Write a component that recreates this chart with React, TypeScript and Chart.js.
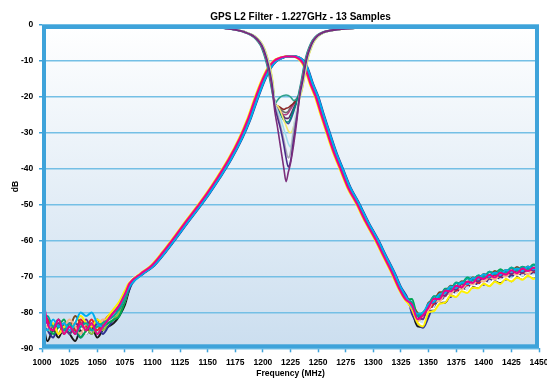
import React, { useEffect, useRef } from 'react';
import { Chart, registerables } from 'chart.js';

Chart.register(...registerables);

const TITLE = 'GPS L2 Filter - 1.227GHz - 13 Samples';
const X_LABEL = 'Frequency (MHz)';
const Y_LABEL = 'dB';
const X_MIN = 1000;
const X_MAX = 1450;
const X_STEP = 25;
const Y_MIN = -90;
const Y_MAX = 0;
const Y_STEP = 10;
const FONT = '"Liberation Sans", Arial, Helvetica, sans-serif';

// ---- Transmission (S21) traces, 13 samples, listed bottom-to-top ----
const S21_COLORS = ['#1a1a1a', '#2e3192', '#ffffff', '#8dc63f', '#00a651', '#7a4a1e', '#ed1c24', '#f6b48a', '#662d91', '#fff200', '#00a99d', '#00aeef', '#ec008c'];
// frequency offset (MHz) of each sample's passband skirt
const S21_SHIFT = [0.8, 1.5, -1.2, -0.2, 0, 0.2, -0.6, -0.4, 0.4, -1.6, 0.6, 1.1, -0.9];

// lower stop band (noise floor)
const LOW_F = [1000, 1005, 1010, 1015, 1020, 1025, 1030, 1035, 1040, 1045, 1050, 1055, 1060, 1065, 1070, 1075];
const LOW_DB = [
  [-81, -88, -85, -87, -84, -86, -88, -85, -86, -84, -87, -85, -84, -83, -81, -78],
  [-83, -85, -87, -84, -86, -83, -85, -87, -85, -86, -83, -86, -84, -82, -80, -77],
  [-82, -84, -82, -85, -83, -85, -82, -84, -86, -83, -85, -83, -82, -81, -79, -76],
  [-84, -82, -85, -83, -86, -84, -86, -83, -84, -86, -84, -85, -83, -82, -80, -77],
  [-80, -83, -86, -84, -82, -86, -84, -87, -85, -83, -86, -84, -83, -82, -81, -77],
  [-80, -82, -84, -86, -83, -84, -81, -83, -85, -84, -82, -84, -81, -80, -79, -76],
  [-79, -82, -84, -82, -85, -83, -85, -82, -84, -82, -85, -83, -81, -80, -78, -75],
  [-82, -84, -83, -86, -84, -82, -84, -86, -83, -85, -84, -82, -82, -81, -79, -76],
  [-81, -83, -85, -83, -84, -86, -83, -84, -82, -85, -83, -84, -82, -80, -79, -76],
  [-84, -85, -83, -86, -84, -85, -83, -81, -83, -84, -82, -83, -81, -79, -77, -74],
  [-83, -81, -84, -82, -85, -83, -86, -84, -83, -85, -84, -83, -82, -81, -79, -76],
  [-83, -85, -82, -84, -83, -85, -83, -80, -81, -80, -83, -84, -82, -80, -78, -75],
  [-74, -83, -85, -82, -86, -84, -86, -83, -85, -83, -86, -84, -82, -80, -78, -75],
];

// passband skirts (common shape)
const S21_F = [1080, 1090, 1100, 1110, 1120, 1130, 1140, 1150, 1160, 1170, 1180, 1187, 1194, 1200, 1206, 1211, 1216, 1222, 1228, 1233, 1237, 1240, 1244, 1249, 1254, 1259, 1265, 1271, 1278, 1286, 1294, 1303, 1310, 1318, 1324, 1330];
const S21_DB = [-72.0, -69.3, -67.0, -63.4, -59.4, -55.2, -51.2, -47.0, -42.4, -37.4, -31.5, -26.5, -20.4, -15.6, -11.9, -10.0, -9.2, -8.8, -8.8, -9.3, -10.6, -12.7, -16.4, -20.2, -25.2, -29.9, -35.4, -40.0, -45.3, -49.8, -54.8, -59.8, -64.2, -69.1, -73.2, -76.4];

// upper stop band
const HIGH_F = [1335, 1340, 1345, 1350, 1355, 1360, 1365, 1370, 1375, 1380, 1385, 1390, 1395, 1400, 1405, 1410, 1415, 1420, 1425, 1430, 1435, 1440, 1445, 1450];
const HIGH_DB = [
  [-79.6, -83.9, -84.1, -79.5, -79.1, -76.9, -77.3, -75.2, -75.5, -73.4, -74.3, -72.6, -73.0, -71.5, -72.6, -71.2, -71.7, -70.3, -71.3, -70.0, -70.5, -69.4, -70.3, -69.3],
  [-80.4, -82.9, -84.3, -81.3, -77.6, -77.5, -75.2, -75.7, -73.8, -74.0, -72.2, -73.1, -71.7, -72.3, -70.6, -71.3, -70.1, -70.9, -69.6, -70.3, -68.9, -69.7, -68.8, -69.5],
  [-79.2, -82.5, -83.4, -79.0, -79.0, -77.0, -76.5, -74.6, -75.2, -73.7, -74.2, -72.3, -72.8, -71.5, -72.3, -70.7, -71.3, -70.2, -71.0, -69.5, -70.4, -69.5, -70.1, -69.0],
  [-77.7, -80.1, -81.4, -77.5, -77.2, -74.9, -74.8, -73.1, -73.6, -71.6, -71.8, -70.3, -71.1, -69.7, -70.2, -68.6, -69.5, -68.5, -69.1, -67.8, -68.8, -67.5, -68.0, -67.0],
  [-76.3, -81.0, -80.1, -78.1, -75.5, -75.7, -73.4, -73.5, -71.7, -72.0, -70.3, -71.0, -69.7, -70.2, -68.7, -69.2, -68.0, -68.8, -67.6, -68.4, -67.3, -67.8, -66.7, -67.3],
  [-78.0, -80.2, -81.3, -77.3, -76.7, -74.4, -74.4, -72.6, -72.8, -71.3, -71.8, -70.3, -70.9, -69.3, -69.8, -68.5, -69.3, -68.2, -68.6, -67.4, -68.3, -67.2, -68.0, -66.9],
  [-79.1, -82.3, -81.1, -79.2, -77.5, -75.4, -75.4, -73.5, -74.0, -72.2, -72.5, -70.9, -71.8, -70.1, -70.6, -69.6, -70.2, -68.8, -69.4, -68.2, -69.1, -68.1, -68.7, -67.6],
  [-78.4, -82.3, -81.3, -79.4, -76.6, -77.0, -74.8, -74.9, -73.0, -73.6, -72.0, -72.2, -70.8, -71.5, -70.2, -70.9, -69.5, -70.1, -68.8, -69.5, -68.5, -69.4, -68.2, -68.7],
  [-78.8, -81.0, -81.9, -77.6, -77.2, -75.3, -75.3, -73.5, -73.6, -71.8, -72.2, -70.8, -71.4, -70.0, -70.3, -69.2, -70.0, -68.7, -69.3, -68.3, -69.0, -67.7, -68.4, -67.5],
  [-79.0, -82.9, -83.9, -80.0, -79.6, -77.6, -77.3, -75.3, -75.7, -74.1, -74.6, -73.1, -73.3, -72.0, -72.7, -71.5, -72.1, -70.7, -71.4, -70.3, -70.9, -69.8, -70.7, -69.6],
  [-77.2, -81.1, -80.0, -78.0, -75.6, -75.7, -73.6, -73.6, -71.8, -72.0, -70.6, -71.2, -69.7, -70.2, -68.7, -69.4, -68.4, -68.9, -67.5, -68.3, -67.4, -68.0, -66.9, -67.4],
  [-78.5, -80.4, -80.2, -77.6, -77.0, -74.9, -74.6, -72.8, -73.2, -71.6, -72.1, -70.4, -70.7, -69.4, -70.1, -68.9, -69.6, -68.2, -68.7, -67.8, -68.5, -67.2, -68.0, -66.9],
  [-77.9, -81.9, -80.8, -78.6, -76.2, -76.3, -73.9, -74.2, -72.6, -73.0, -71.4, -71.8, -70.2, -70.7, -69.5, -70.3, -69.0, -69.5, -68.3, -69.1, -67.8, -68.5, -67.6, -68.2],
];

// ---- Return loss (S11) traces, 13 samples, listed bottom-to-top ----
const S11_COLORS = ['#6a6a6a', '#3d4aa0', '#b04080', '#5e2a66', '#8b2525', '#2fa08c', '#00877d', '#f2e76e', '#9fdcec', '#ffffff', '#a9a9b4', '#4b2c8a', '#7b2d7b'];
const S11_SHIFT = [0.3, 0.5, -0.3, 0.2, 0.6, 0.9, -1.2, 1.2, 0.4, 0, -0.6, 0.1, -0.4];

const S11_LF = [1000, 1100, 1150, 1165, 1175, 1183, 1190, 1195, 1199, 1202, 1205, 1208];
const S11_LDB = [-0.4, -0.5, -0.6, -0.9, -1.3, -1.9, -2.8, -4.0, -5.7, -8.0, -11.3, -16.0];

const S11_DF = [1211, 1213, 1216, 1219, 1221, 1223, 1225, 1228, 1231];
const S11_DIP = [
  [-21.8, -22.5, -23.5, -24.2, -24.4, -24.0, -23.0, -21.6, -20.3],
  [-22.0, -23.0, -24.5, -26.0, -27.0, -27.5, -26.5, -24.0, -21.0],
  [-22.0, -23.0, -24.0, -25.0, -25.0, -24.5, -23.5, -22.0, -20.5],
  [-22.5, -23.5, -24.5, -25.5, -26.0, -26.0, -25.0, -23.0, -21.0],
  [-22.0, -22.5, -23.0, -23.5, -23.2, -23.0, -22.5, -21.8, -20.5],
  [-22.0, -21.0, -20.0, -19.6, -19.5, -19.6, -20.0, -21.0, -20.5],
  [-22.5, -23.5, -25.0, -26.5, -27.0, -27.0, -26.0, -23.5, -21.0],
  [-22.0, -22.5, -24.0, -26.5, -28.0, -29.5, -30.0, -28.0, -23.0],
  [-22.0, -23.5, -26.0, -29.0, -31.0, -33.0, -34.0, -28.0, -23.0],
  [-22.5, -24.5, -28.5, -33.0, -35.5, -37.5, -36.0, -29.0, -23.5],
  [-22.5, -24.5, -28.0, -32.0, -35.0, -37.0, -35.5, -29.0, -24.0],
  [-23.0, -25.5, -29.0, -33.5, -37.0, -39.5, -38.0, -31.5, -25.0],
  [-24.5, -28.0, -34.0, -40.0, -43.6, -41.0, -38.5, -33.0, -26.0],
];

const S11_RF = [1234, 1236, 1238, 1240, 1243, 1246, 1250, 1255, 1262, 1275, 1300, 1350, 1450];
const S11_RDB = [-18.5, -15.5, -12.0, -9.0, -6.2, -4.3, -2.9, -2.0, -1.5, -1.0, -0.7, -0.4, -0.3];

function buildDatasets() {
  const sets: any[] = [];
  for (let i = 0; i < S21_COLORS.length; i++) {
    const pts = [
      ...LOW_F.map((f, j) => ({ x: f, y: LOW_DB[i][j] })),
      ...S21_F.map((f, j) => ({ x: f + S21_SHIFT[i], y: S21_DB[j] })),
      ...HIGH_F.map((f, j) => ({ x: f, y: HIGH_DB[i][j] })),
    ];
    sets.push({
      label: 'S21 sample ' + (i + 1),
      data: pts,
      borderColor: S21_COLORS[i],
      borderWidth: 2,
      pointRadius: 0,
      fill: false,
      cubicInterpolationMode: 'monotone',
    });
  }
  for (let i = 0; i < S11_COLORS.length; i++) {
    const pts = [
      ...S11_LF.map((f, j) => ({ x: f + S11_SHIFT[i], y: S11_LDB[j] })),
      ...S11_DF.map((f, j) => ({ x: f, y: S11_DIP[i][j] })),
      ...S11_RF.map((f, j) => ({ x: f + S11_SHIFT[i], y: S11_RDB[j] })),
    ];
    sets.push({
      label: 'S11 sample ' + (i + 1),
      data: pts,
      borderColor: S11_COLORS[i],
      borderWidth: 1.6,
      pointRadius: 0,
      fill: false,
      cubicInterpolationMode: 'monotone',
    });
  }
  // Chart.js draws the first dataset last (on top)
  return sets.reverse();
}

const plotDecor = {
  id: 'plotDecor',
  beforeDraw(chart: any) {
    const { ctx, chartArea: a } = chart;
    ctx.save();
    ctx.fillStyle = '#ffffff';
    ctx.fillRect(0, 0, chart.width, chart.height);
    const g = ctx.createLinearGradient(0, a.top, 0, a.bottom);
    g.addColorStop(0, '#ffffff');
    g.addColorStop(1, '#cbdeef');
    ctx.fillStyle = g;
    ctx.fillRect(a.left, a.top, a.right - a.left, a.bottom - a.top);
    ctx.restore();
  },
  afterDatasetsDraw(chart: any) {
    const { ctx, chartArea: a } = chart;
    ctx.save();
    ctx.strokeStyle = '#3ea3da';
    ctx.lineWidth = 4;
    ctx.strokeRect(a.left + 2, a.top + 2, a.right - a.left - 4, a.bottom - a.top - 4);
    ctx.restore();
  },
  afterDraw(chart: any) {
    const { ctx, chartArea: a } = chart;
    ctx.save();
    ctx.fillStyle = '#000000';
    ctx.font = 'bold 10px ' + FONT;
    ctx.textAlign = 'center';
    ctx.textBaseline = 'alphabetic';
    ctx.fillText(TITLE, (a.left + a.right) / 2 + 10, 20);
    ctx.restore();
  },
};

export default function App() {
  const ref = useRef<HTMLCanvasElement | null>(null);
  useEffect(() => {
    if (!ref.current) return;
    const chart = new Chart(ref.current, {
      type: 'line',
      data: { datasets: buildDatasets() },
      options: {
        responsive: false,
        animation: false,
        devicePixelRatio: 1,
        layout: { padding: { top: 25, right: 8, left: 0, bottom: 0 } },
        plugins: {
          legend: { display: false },
          tooltip: { enabled: false },
          title: { display: false },
        },
        scales: {
          x: {
            type: 'linear',
            min: X_MIN,
            max: X_MAX,
            afterFit: (s: any) => {
              s.height = 30.7;
              s.paddingLeft = 0;
              s.paddingRight = 0;
            },
            ticks: {
              stepSize: X_STEP,
              autoSkip: false,
              maxRotation: 0,
              padding: 5.5,
              color: '#000000',
              font: { family: FONT, size: 8.5, weight: 'bold' },
              callback: (v: any) => String(v),
            },
            grid: { display: true, drawOnChartArea: false, drawTicks: true, tickLength: 4, tickColor: '#3ea3da', tickWidth: 1.5 },
            border: { display: false },
            title: {
              display: true,
              text: X_LABEL,
              color: '#000000',
              font: { family: FONT, size: 8.5, weight: 'bold' },
              padding: { top: 0, bottom: 0 },
            },
          },
          y: {
            type: 'linear',
            min: Y_MIN,
            max: Y_MAX,
            afterFit: (s: any) => {
              s.width = 42;
              s.paddingTop = 0;
              s.paddingBottom = 0;
            },
            ticks: {
              stepSize: Y_STEP,
              padding: 5.7,
              color: '#000000',
              font: { family: FONT, size: 8.5, weight: 'bold' },
              callback: (v: any) => String(v),
            },
            grid: { color: '#74bfe5', lineWidth: 1.5, drawTicks: true, tickLength: 3, tickColor: '#3ea3da', tickWidth: 1.5 },
            border: { display: false },
            title: {
              display: true,
              text: Y_LABEL,
              color: '#000000',
              font: { family: FONT, size: 8.5, weight: 'bold' },
              padding: { top: 11, bottom: 0 },
            },
          },
        },
      },
      plugins: [plotDecor],
    } as any);
    return () => chart.destroy();
  }, []);
  return (
    <div style={{ position: 'absolute', left: 0, top: 0, width: 547, height: 379, background: '#ffffff' }}>
      <canvas ref={ref} width={547} height={379} style={{ display: 'block', width: 547, height: 379 }} />
    </div>
  );
}
